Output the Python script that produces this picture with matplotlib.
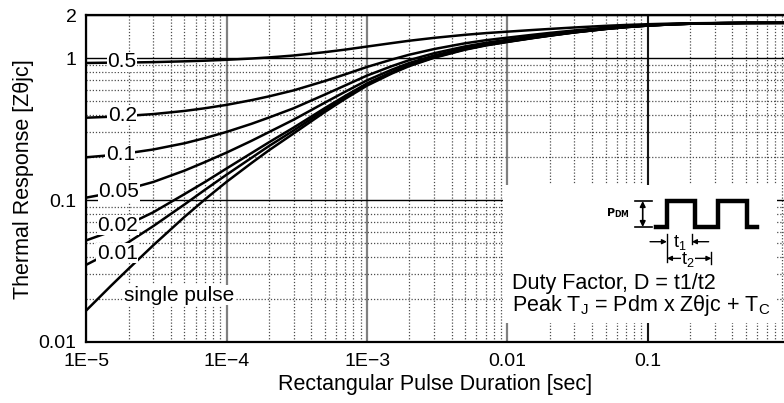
import numpy as np
import matplotlib.pyplot as plt
from matplotlib.ticker import LogLocator, NullFormatter
from matplotlib.patches import Rectangle

plt.rcParams['font.family'] = ['Liberation Sans', 'DejaVu Sans']
plt.rcParams['mathtext.default'] = 'regular'

# pulse duration [sec]
pulse_time = [1e-5, 1.5e-5, 2e-5, 3e-5, 5e-5, 7e-5, 1e-4, 1.5e-4, 2e-4, 3e-4,
              5e-4, 7e-4, 1e-3, 1.5e-3, 2e-3, 3e-3, 5e-3, 7e-3, 1e-2, 1.5e-2,
              2e-2, 3e-2, 5e-2, 7e-2, 0.1, 0.15, 0.2, 0.3, 0.5, 1.0]

# thermal response for each duty factor
z_d050 = [0.923, 0.928, 0.930, 0.936, 0.948, 0.958, 0.972, 0.992, 1.010, 1.042,
          1.100, 1.147, 1.205, 1.274, 1.324, 1.387, 1.458, 1.498, 1.534, 1.575,
          1.603, 1.642, 1.686, 1.710, 1.731, 1.749, 1.757, 1.764, 1.769, 1.770]
z_d020 = [0.380, 0.386, 0.392, 0.403, 0.424, 0.443, 0.468, 0.505, 0.537, 0.592,
          0.689, 0.768, 0.866, 0.976, 1.056, 1.157, 1.271, 1.335, 1.392, 1.457,
          1.503, 1.565, 1.635, 1.674, 1.708, 1.736, 1.749, 1.760, 1.768, 1.770]
z_d010 = [0.200, 0.207, 0.214, 0.227, 0.251, 0.273, 0.302, 0.344, 0.381, 0.443,
          0.553, 0.642, 0.753, 0.877, 0.967, 1.081, 1.208, 1.280, 1.345, 1.418,
          1.469, 1.540, 1.618, 1.662, 1.700, 1.731, 1.747, 1.759, 1.767, 1.770]
z_d005 = [0.104, 0.112, 0.120, 0.134, 0.161, 0.185, 0.216, 0.261, 0.301, 0.368,
          0.485, 0.580, 0.697, 0.828, 0.923, 1.042, 1.177, 1.253, 1.322, 1.399,
          1.453, 1.527, 1.610, 1.656, 1.696, 1.729, 1.745, 1.759, 1.767, 1.770]
z_d002 = [0.052, 0.060, 0.0675, 0.082, 0.110, 0.134, 0.167, 0.214, 0.255, 0.324,
          0.444, 0.542, 0.663, 0.798, 0.896, 1.019, 1.159, 1.237, 1.307, 1.387,
          1.443, 1.519, 1.604, 1.652, 1.694, 1.728, 1.745, 1.758, 1.767, 1.770]
z_d001 = [0.035, 0.043, 0.0505, 0.0655, 0.093, 0.118, 0.151, 0.198, 0.240, 0.309,
          0.431, 0.530, 0.651, 0.788, 0.887, 1.012, 1.152, 1.232, 1.303, 1.383,
          1.439, 1.517, 1.603, 1.651, 1.693, 1.727, 1.744, 1.758, 1.767, 1.770]
z_single = [0.0167, 0.0249, 0.0328, 0.048, 0.076, 0.101, 0.1345, 0.182, 0.224, 0.2945,
            0.417, 0.517, 0.640, 0.778, 0.878, 1.004, 1.146, 1.226, 1.298, 1.379,
            1.436, 1.514, 1.601, 1.650, 1.692, 1.727, 1.744, 1.758, 1.767, 1.770]

curves = [z_d050, z_d020, z_d010, z_d005, z_d002, z_d001, z_single]

# curve labels and where they sit
label_text = ['0.5', '0.2', '0.1', '0.05', '0.02', '0.01', 'single pulse']
label_x = [1.8e-5, 1.8e-5, 1.75e-5, 1.7e-5, 1.68e-5, 1.66e-5, 4.6e-5]
label_y = [0.94, 0.395, 0.208, 0.114, 0.0666, 0.0423, 0.0214]

xtick_vals = [1e-5, 1e-4, 1e-3, 1e-2, 1e-1]
xtick_labels = ['1E\u22125', '1E\u22124', '1E\u22123', '0.01', '0.1']
ytick_vals = [0.01, 0.1, 1, 2]
ytick_labels = ['0.01', '0.1', '1', '2']

fig = plt.figure(figsize=(7.84, 4.03), dpi=100)
ax = fig.add_axes([86.3 / 784, 1 - 342 / 403, 697.7 / 784, 326.7 / 403])

ax.set_xscale('log')
ax.set_yscale('log')
ax.set_xlim(1e-5, 0.932)
ax.set_ylim(0.01, 2)

for z in curves:
    ax.plot(pulse_time, z, color='black', lw=1.8, zorder=2)

for txt, lx, ly in zip(label_text, label_x, label_y):
    ax.text(lx, ly, txt, fontsize=15, ha='center', va='center', zorder=3,
            bbox=dict(facecolor='white', edgecolor='none', pad=0.3))

# ticks and grid
ax.set_xticks(xtick_vals)
ax.set_xticklabels(xtick_labels)
ax.set_yticks(ytick_vals)
ax.set_yticklabels(ytick_labels)
ax.xaxis.set_minor_locator(LogLocator(base=10, subs=np.arange(2, 10)))
ax.yaxis.set_minor_locator(LogLocator(base=10, subs=np.arange(2, 10)))
ax.xaxis.set_minor_formatter(NullFormatter())
ax.yaxis.set_minor_formatter(NullFormatter())
ax.tick_params(which='both', length=0, labelsize=14)
ax.tick_params(axis='x', pad=8)
ax.tick_params(axis='y', pad=7)

ax.set_axisbelow(True)
ax.grid(which='minor', axis='both', color='0.3', lw=0.9, ls=(0, (1, 1.5)))
ax.grid(which='major', axis='x', color='0.5', lw=1.6)
ax.grid(which='major', axis='y', color='black', lw=1.0)
ax.axvline(0.1, color='black', lw=1.2, zorder=0.6)

for side in ['left', 'bottom', 'top']:
    ax.spines[side].set_linewidth(1.6)
ax.spines['right'].set_visible(False)

ax.set_xlabel('Rectangular Pulse Duration [sec]', fontsize=15.5, labelpad=3)
ax.set_ylabel('Thermal Response [Z\u03b8jc]', fontsize=15.5, labelpad=3)

# inset with pulse sketch
ax.add_patch(Rectangle((0.597, 0.058), 0.393, 0.422, transform=ax.transAxes,
                       facecolor='white', edgecolor='none', zorder=1))

T = ax.transAxes
wave_x = [0.8164, 0.8322, 0.8322, 0.8723, 0.8723, 0.9053, 0.9053, 0.9469, 0.9469, 0.9612]
wave_y = [0.352, 0.352, 0.4316, 0.4316, 0.352, 0.352, 0.4316, 0.4316, 0.352, 0.352]
ax.plot(wave_x, wave_y, color='black', lw=3.2, transform=T, zorder=4,
        solid_joinstyle='miter')

ax.annotate('', xy=(0.7975, 0.4316), xytext=(0.7975, 0.352), xycoords=T,
            arrowprops=dict(arrowstyle='<|-|>', color='black', lw=1.2,
                            mutation_scale=8, shrinkA=0, shrinkB=0))
ax.plot([0.787, 0.811], [0.4316, 0.4316], color='black', lw=1.2, transform=T)
ax.plot([0.787, 0.811], [0.352, 0.352], color='black', lw=1.2, transform=T)
ax.text(0.762, 0.394, r'$\mathbf{P_{DM}}$', fontsize=8, ha='center', va='center',
        transform=T)

ax.annotate('', xy=(0.8322, 0.307), xytext=(0.808, 0.307), xycoords=T,
            arrowprops=dict(arrowstyle='-|>', color='black', lw=1.0,
                            mutation_scale=7, shrinkA=0, shrinkB=0))
ax.annotate('', xy=(0.868, 0.307), xytext=(0.892, 0.307), xycoords=T,
            arrowprops=dict(arrowstyle='-|>', color='black', lw=1.0,
                            mutation_scale=7, shrinkA=0, shrinkB=0))
ax.plot([0.8322, 0.8322], [0.245, 0.33], color='black', lw=1.0, transform=T)
ax.plot([0.868, 0.868], [0.30, 0.33], color='black', lw=1.0, transform=T)
ax.text(0.851, 0.305, '$t_1$', fontsize=13, ha='center', va='center',
        transform=T)
ax.annotate('', xy=(0.8322, 0.256), xytext=(0.896, 0.256), xycoords=T,
            arrowprops=dict(arrowstyle='<|-|>', color='black', lw=1.0,
                            mutation_scale=7, shrinkA=0, shrinkB=0))
ax.plot([0.896, 0.896], [0.24, 0.275], color='black', lw=1.0, transform=T)
ax.text(0.862, 0.252, '$t_2$', fontsize=13, ha='center', va='center',
        transform=T, bbox=dict(facecolor='white', edgecolor='none', pad=0.2))

ax.text(0.610, 0.18, 'Duty Factor, D = t1/t2', fontsize=15.5, ha='left',
        va='center', transform=T)
ax.text(0.610, 0.113, 'Peak $T_J$ = Pdm x Z\u03b8jc + $T_C$', fontsize=15.5,
        ha='left', va='center', transform=T)

fig.savefig('out.png', dpi=100)
